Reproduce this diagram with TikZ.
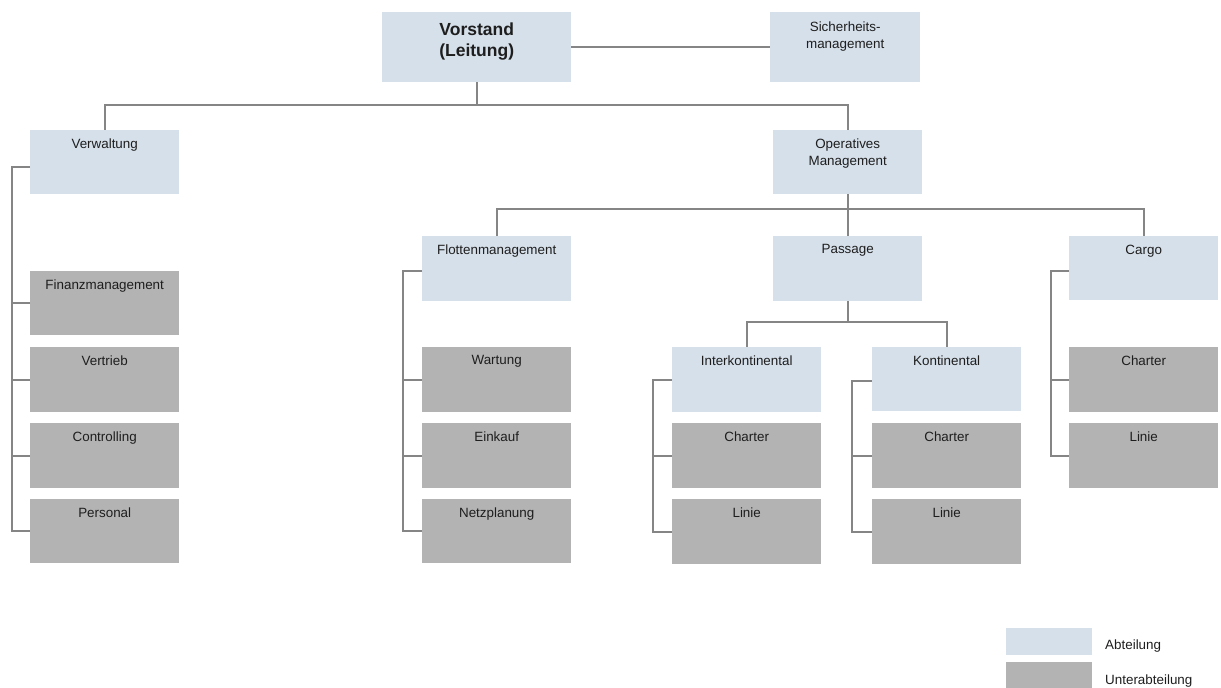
\documentclass[tikz,border=0pt]{standalone}
\usepackage{fontspec}
\setmainfont{Liberation Sans}
\definecolor{abtcol}{HTML}{D6E0EA}
\definecolor{subcol}{HTML}{B3B3B3}
\definecolor{linecol}{HTML}{858585}
\definecolor{txtcol}{HTML}{1E1E1E}
\tikzset{
  abt/.style={fill=abtcol, draw=none, minimum width=149pt, minimum height=65pt, anchor=north west, inner sep=0pt},
  sub/.style={fill=subcol, draw=none, minimum width=149pt, minimum height=65pt, anchor=north west, inner sep=0pt},
  lab/.style={anchor=north, yshift=-8.5pt, inner sep=0pt, align=center, text=txtcol, font=\fontsize{13.4}{17}\selectfont},
  bigl/.style={anchor=north, yshift=-11pt, inner sep=0pt, align=center, text=txtcol, font=\fontsize{17.5}{21}\selectfont\bfseries},
  conn/.style={draw=linecol, line width=1.8pt},
  legtxt/.style={anchor=west, inner sep=0pt, text=txtcol, font=\fontsize{13.4}{17}\selectfont}
}
\begin{document}
\begin{tikzpicture}[x=1pt, y=-1pt]
\useasboundingbox (0,0) rectangle (1221,688);
% top level
\node[abt, minimum width=189pt, minimum height=70pt, label={[bigl]north:Vorstand\\(Leitung)}] (vor) at (382,12) {};
\node[abt, minimum width=150pt, minimum height=70pt, label={[lab, yshift=-1.5pt]north:Sicherheits-\\management}] (sich) at (770,12) {};
% second level
\node[abt, minimum height=64pt, label={[lab]north:Verwaltung}] (verw) at (30,130) {};
\node[abt, minimum height=64pt, label={[lab]north:Operatives\\Management}] (opm) at (773,130) {};
% Verwaltung children
\node[sub, minimum height=64pt, label={[lab]north:Finanzmanagement}] (fin) at (30,271) {};
\node[sub, label={[lab]north:Vertrieb}] (vert) at (30,347) {};
\node[sub, label={[lab]north:Controlling}] (contr) at (30,423) {};
\node[sub, minimum height=64pt, label={[lab]north:Personal}] (pers) at (30,499) {};
% third level
\node[abt, label={[lab]north:Flottenmanagement}] (flot) at (422,236) {};
\node[abt, label={[lab]north:Passage}] (pass) at (773,236) {};
\node[abt, minimum height=64pt, label={[lab]north:Cargo}] (cargo) at (1069,236) {};
% Flotten children
\node[sub, label={[lab]north:Wartung}] (wart) at (422,347) {};
\node[sub, label={[lab]north:Einkauf}] (eink) at (422,423) {};
\node[sub, minimum height=64pt, label={[lab]north:Netzplanung}] (netz) at (422,499) {};
% Passage children
\node[abt, label={[lab]north:Interkontinental}] (inter) at (672,347) {};
\node[abt, minimum height=64pt, label={[lab]north:Kontinental}] (kont) at (872,347) {};
\node[sub, label={[lab]north:Charter}] (ich) at (672,423) {};
\node[sub, label={[lab]north:Linie}] (ili) at (672,499) {};
\node[sub, label={[lab]north:Charter}] (kch) at (872,423) {};
\node[sub, label={[lab]north:Linie}] (kli) at (872,499) {};
% Cargo children
\node[sub, label={[lab]north:Charter}] (cch) at (1069,347) {};
\node[sub, label={[lab]north:Linie}] (cli) at (1069,423) {};
% bus coordinates
\coordinate (bus1) at (0,105);
\coordinate (bus2) at (0,209);
\coordinate (bus3) at (0,322);
% connectors
\draw[conn] (vor.east) -- (sich.west);
\draw[conn] (vor.south) -- (vor.south |- bus1) -| (verw.north);
\draw[conn] (vor.south |- bus1) -| (opm.north);
\draw[conn] (opm.south) -- (pass.north);
\draw[conn] (flot.north) |- (opm.south |- bus2) -| (cargo.north);
\draw[conn] (pass.south) -- (pass.south |- bus3) -| (inter.north);
\draw[conn] (pass.south |- bus3) -| (kont.north);
% brackets
\draw[conn] ([yshift=-5pt]verw.west) -- ++(-18,0) |- (pers.west);
\foreach \c in {fin,vert,contr} \draw[conn] (\c.west) -- ++(-18,0);
\draw[conn] ([yshift=-2pt]flot.west) -- ++(-19,0) |- (netz.west);
\foreach \c in {wart,eink} \draw[conn] (\c.west) -- ++(-19,0);
\draw[conn] (inter.west) -- ++(-19,0) |- (ili.west);
\draw[conn] (ich.west) -- ++(-19,0);
\draw[conn] ([yshift=-2pt]kont.west) -- ++(-20,0) |- (kli.west);
\draw[conn] (kch.west) -- ++(-20,0);
\draw[conn] ([yshift=-3pt]cargo.west) -- ++(-18,0) |- (cli.west);
\draw[conn] (cch.west) -- ++(-18,0);
% legend
\node[fill=abtcol, minimum width=86pt, minimum height=27pt, anchor=north west, inner sep=0pt] (legA) at (1006,628) {};
\node[fill=subcol, minimum width=86pt, minimum height=26pt, anchor=north west, inner sep=0pt] (legB) at (1006,662) {};
\node[legtxt] (legAt) at (1105,646) {Abteilung};
\node[legtxt] (legBt) at (1105,681) {Unterabteilung};
\end{tikzpicture}
\end{document}
